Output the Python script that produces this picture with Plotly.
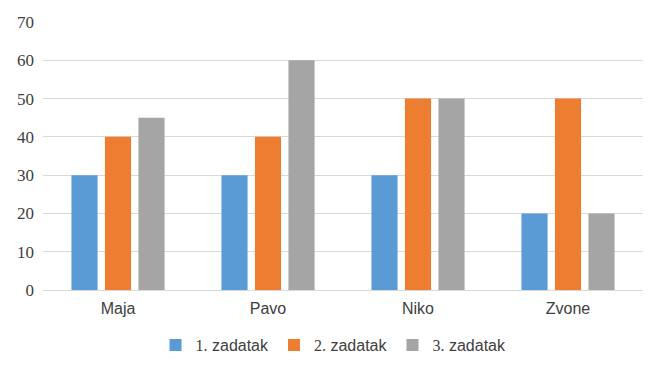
import plotly.graph_objects as go

categories = ["Maja", "Pavo", "Niko", "Zvone"]
series_names = ["1. zadatak", "2. zadatak", "3. zadatak"]
zad1 = [30, 30, 30, 20]
zad2 = [40, 40, 50, 50]
zad3 = [45, 60, 50, 20]
y_ticks = [0, 10, 20, 30, 40, 50, 60, 70]

colors = ["#5B9BD5", "#ED7D31", "#A5A5A5"]
SERIF = "Liberation Serif"
SANS = "Liberation Sans"

def legend_label(name):
    num, rest = name.split(" ", 1)
    return "<span style=\"font-family:'Liberation Serif'\">" + num + "</span> " + rest

fig = go.Figure()
for name, vals, c in zip(series_names, [zad1, zad2, zad3], colors):
    fig.add_trace(go.Bar(x=categories, y=vals, name=legend_label(name), marker_color=c,
                         marker_line_width=0))

# the page body has an 8px margin, so the figure is drawn 8px smaller and offset
fig.update_layout(
    width=655, height=359,
    paper_bgcolor="white", plot_bgcolor="white",
    margin=dict(l=35, r=20, t=14, b=77, autoexpand=False),
    barmode="group", bargap=0.33, bargroupgap=0.22,
    font=dict(family=SANS, color="#404040", size=16),
    legend=dict(orientation="h", x=0.497, xanchor="center", xref="container",
                y=0.061, yanchor="middle", yref="container",
                font=dict(family=SANS, size=16, color="#404040"),
                itemwidth=30, tracegroupgap=0),
    showlegend=True,
)
fig.update_yaxes(range=[0, 70], tickvals=y_ticks, showgrid=True, gridcolor="#D9D9D9",
                 gridwidth=1, zeroline=True, zerolinecolor="#D9D9D9", zerolinewidth=1,
                 tickfont=dict(family=SERIF, size=17, color="#404040"),
                 ticks="", ticklabelstandoff=8, showline=False, automargin=False)
fig.update_xaxes(showline=False, ticks="", automargin=False, ticklabelstandoff=7,
                 tickfont=dict(family=SANS, size=16, color="#404040"))

fig.write_html("out.html")
